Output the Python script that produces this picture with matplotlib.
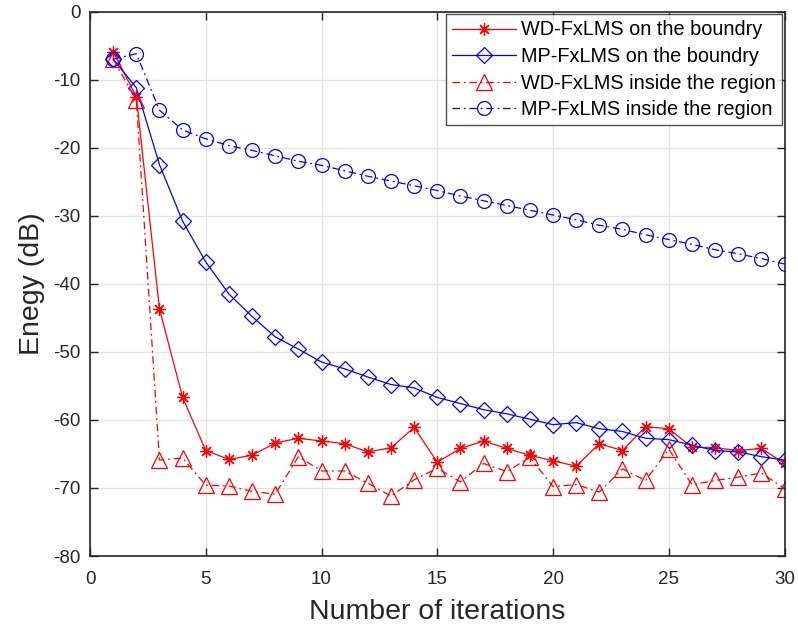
import matplotlib
matplotlib.use("Agg")
import matplotlib.pyplot as plt
import numpy as np

plt.rcParams['font.family'] = ['Liberation Sans', 'DejaVu Sans']
plt.rcParams['axes.unicode_minus'] = False

# iteration index
iters = np.arange(1, 31)

# energy (dB) of the four schemes
wd_boundary = [-5.9, -12.5, -43.7, -56.7, -64.5, -65.8, -65.2, -63.4, -62.7, -63.1,
               -63.5, -64.7, -64.1, -61.1, -66.2, -64.2, -63.1, -64.2, -65.2, -66.0,
               -66.8, -63.5, -64.5, -61.0, -61.3, -64.0, -64.1, -64.5, -64.2, -66.4]
mp_boundary = [-7.0, -11.2, -22.5, -30.8, -36.8, -41.5, -44.8, -47.8, -49.6, -51.5,
               -52.5, -53.7, -54.8, -55.3, -56.7, -57.6, -58.5, -59.1, -59.9, -60.7,
               -60.4, -61.3, -61.7, -62.7, -62.9, -63.7, -64.5, -64.7, -65.4, -65.9]
wd_inside = [-7.0, -13.0, -65.9, -65.6, -69.6, -69.7, -70.5, -70.9, -65.4, -67.5,
             -67.5, -69.3, -71.2, -68.8, -67.1, -69.1, -66.4, -67.6, -65.5, -69.8,
             -69.5, -70.6, -67.2, -68.9, -64.3, -69.5, -68.9, -68.4, -67.8, -70.1]
mp_inside = [-7.0, -6.2, -14.5, -17.4, -18.7, -19.7, -20.4, -21.2, -22.0, -22.6,
             -23.4, -24.2, -24.9, -25.6, -26.3, -27.1, -27.8, -28.5, -29.2, -29.9,
             -30.6, -31.4, -32.0, -32.8, -33.5, -34.2, -35.0, -35.6, -36.3, -37.1]

fig = plt.figure(figsize=(7.98, 6.33), dpi=100)
ax = fig.add_axes([0.1128, 0.1216, 0.8703, 0.8602])

dashdot = (0, (6, 3, 1.5, 3))
ax.plot(iters, wd_boundary, '-', color='red', lw=0.9, marker=(8, 2, 0), ms=9,
        mew=0.9, label='WD-FxLMS on the boundry')
ax.plot(iters, mp_boundary, '-', color='blue', lw=0.9, marker='D', ms=8.5,
        mfc='none', mew=0.9, label='MP-FxLMS on the boundry')
ax.plot(iters, wd_inside, linestyle=dashdot, color='red', lw=0.9, marker='^', ms=11,
        mfc='none', mew=0.9, label='WD-FxLMS inside the region')
ax.plot(iters, mp_inside, linestyle=dashdot, color='blue', lw=0.9, marker='o', ms=10,
        mfc='none', mew=0.9, label='MP-FxLMS inside the region')

ax.set_xlim(0, 30)
ax.set_ylim(-80, 0)
ax.set_xticks(np.arange(0, 31, 5))
ax.set_yticks(np.arange(-80, 1, 10))
ax.grid(True, color='#e3e3e3', lw=1.0)
ax.set_axisbelow(True)
ax.tick_params(direction='in', length=6, width=1.0, colors='#262626',
               labelsize=13.5, top=True, right=True, labeltop=False, labelright=False)
ax.tick_params(axis='x', pad=11)
ax.tick_params(axis='y', pad=7)
for sp in ax.spines.values():
    sp.set_color('#262626')
    sp.set_linewidth(1.2)

ax.set_xlabel('Number of iterations', fontsize=20.5, color='#262626', labelpad=8)
ax.set_ylabel('Enegy (dB)', fontsize=20.5, color='#262626', labelpad=6)

leg = ax.legend(loc='upper right', fontsize=14.3, frameon=True, fancybox=False,
                edgecolor='#262626', borderaxespad=0.15, handlelength=3.2,
                borderpad=0.3, labelspacing=0.38, handletextpad=0.25)
leg.get_frame().set_linewidth(1.0)

fig.savefig('out.png', dpi=100)
